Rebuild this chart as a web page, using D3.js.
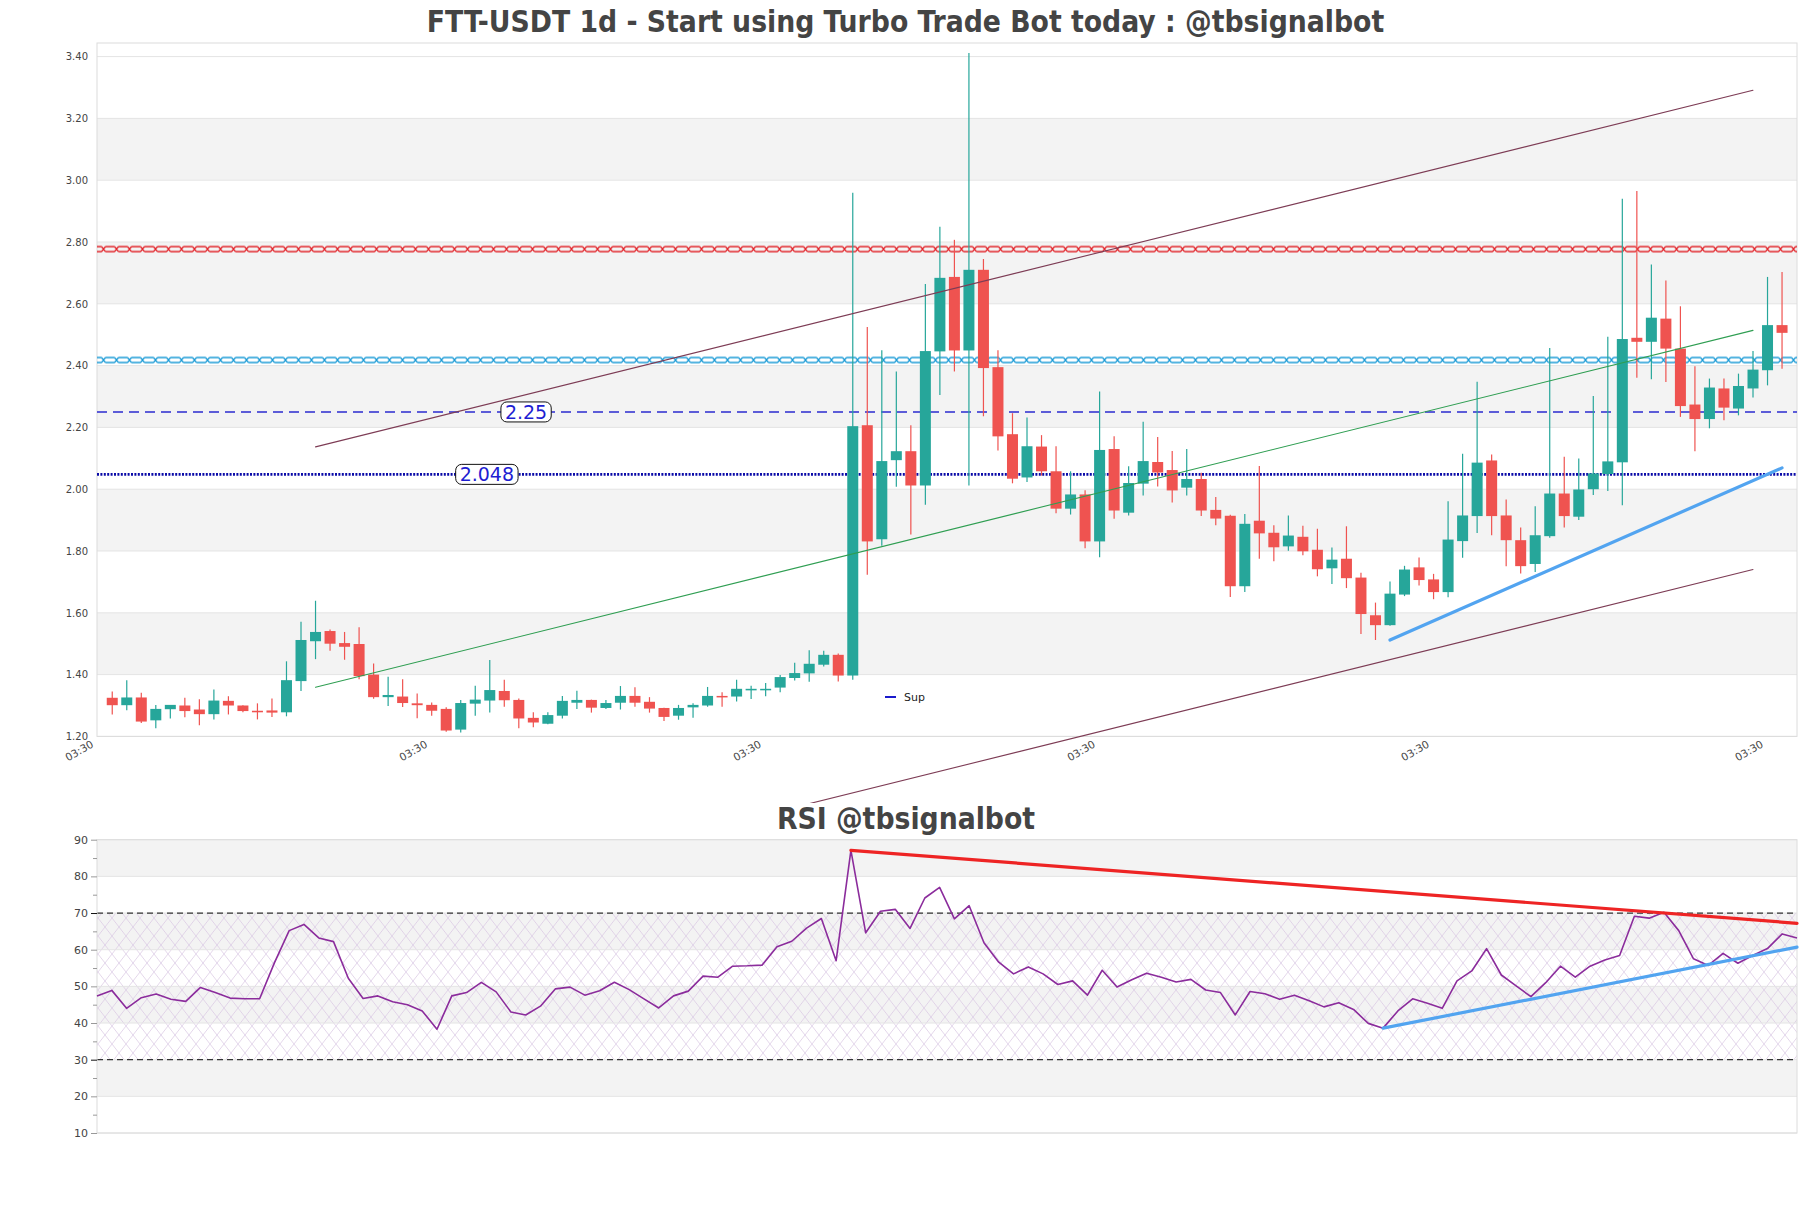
<!DOCTYPE html>
<html>
<head>
<meta charset="utf-8">
<script src="https://cdn.jsdelivr.net/npm/d3@7"></script>
<style>
  body { margin: 0; background: #fff; }
  svg { display: block; font-family: "DejaVu Sans", sans-serif; }
</style>
</head>
<body>
<script>
/**********************
 ***      Data      ***
 **********************/
const TITLE_TEXT = "FTT-USDT 1d - Start using Turbo Trade Bot today : @tbsignalbot";
const RSI_TITLE = "RSI @tbsignalbot";

const opens = [1.325,1.301,1.326,1.252,1.288,1.300,1.287,1.272,1.315,1.300,1.283,1.284,1.278,1.379,1.508,1.541,1.502,1.499,1.400,1.327,
  1.329,1.307,1.302,1.289,1.222,1.306,1.316,1.347,1.318,1.260,1.241,1.267,1.309,1.318,1.292,1.309,1.331,1.312,1.292,1.267,
  1.294,1.300,1.331,1.329,1.349,1.352,1.358,1.389,1.404,1.432,1.464,1.397,2.207,1.838,2.094,2.123,2.012,2.446,2.687,2.449,
  2.710,2.395,2.178,2.038,2.138,2.058,1.937,1.983,1.831,2.130,1.924,2.018,2.088,2.062,2.005,2.033,1.933,1.914,1.686,1.898,
  1.859,1.815,1.846,1.804,1.744,1.775,1.714,1.592,1.560,1.659,1.747,1.708,1.667,1.832,1.913,2.093,1.915,1.835,1.758,1.848,
  1.986,1.911,2.000,2.049,2.087,2.490,2.477,2.552,2.455,2.274,2.227,2.326,2.261,2.326,2.385,2.531];
const highs = [1.345,1.382,1.341,1.302,1.302,1.325,1.320,1.352,1.330,1.301,1.307,1.323,1.443,1.571,1.639,1.546,1.538,1.553,1.436,1.393,
  1.385,1.339,1.310,1.294,1.318,1.364,1.447,1.383,1.323,1.278,1.278,1.331,1.348,1.319,1.318,1.363,1.359,1.327,1.293,1.302,
  1.307,1.360,1.343,1.383,1.364,1.373,1.399,1.438,1.479,1.477,1.468,2.959,2.525,2.450,2.381,2.207,2.664,2.849,2.807,3.412,
  2.745,2.450,2.246,2.232,2.175,2.139,2.058,1.997,2.316,2.171,2.074,2.218,2.169,2.124,2.130,2.053,1.975,1.917,1.920,2.075,
  1.883,1.915,1.882,1.872,1.811,1.880,1.730,1.633,1.701,1.752,1.779,1.726,1.961,2.115,2.348,2.112,1.967,1.876,1.945,2.457,
  2.105,2.099,2.302,2.493,2.940,2.965,2.727,2.675,2.592,2.398,2.358,2.358,2.374,2.447,2.687,2.703];
const lows = [1.271,1.285,1.243,1.226,1.258,1.262,1.236,1.255,1.271,1.278,1.255,1.263,1.265,1.347,1.450,1.477,1.448,1.385,1.322,1.298,
  1.295,1.259,1.267,1.215,1.213,1.267,1.277,1.296,1.226,1.230,1.239,1.258,1.289,1.277,1.289,1.287,1.296,1.277,1.250,1.254,
  1.260,1.296,1.296,1.313,1.321,1.330,1.343,1.381,1.377,1.426,1.378,1.383,1.723,1.817,2.008,1.853,1.950,2.305,2.381,2.012,
  2.236,2.125,2.019,2.023,2.044,1.922,1.918,1.809,1.780,1.904,1.915,1.980,2.009,1.957,1.980,1.913,1.883,1.651,1.667,1.775,
  1.767,1.801,1.786,1.718,1.693,1.680,1.531,1.512,1.558,1.654,1.688,1.644,1.650,1.778,1.858,1.851,1.751,1.727,1.732,1.843,
  1.876,1.900,1.981,1.994,1.948,2.361,2.356,2.347,2.234,2.123,2.197,2.223,2.239,2.297,2.336,2.390];
const closes = [1.301,1.326,1.248,1.289,1.302,1.282,1.272,1.316,1.300,1.282,1.278,1.277,1.382,1.512,1.538,1.500,1.490,1.395,1.327,1.334,
  1.308,1.301,1.283,1.219,1.308,1.319,1.350,1.317,1.258,1.245,1.269,1.315,1.318,1.293,1.308,1.331,1.309,1.290,1.263,1.292,
  1.302,1.331,1.329,1.354,1.354,1.354,1.392,1.405,1.435,1.464,1.397,2.204,1.831,2.091,2.123,2.012,2.447,2.684,2.449,2.710,
  2.392,2.171,2.034,2.139,2.058,1.937,1.983,1.831,2.127,1.931,2.020,2.091,2.054,1.996,2.033,1.931,1.905,1.686,1.888,1.857,
  1.812,1.850,1.799,1.741,1.772,1.712,1.596,1.560,1.662,1.740,1.706,1.667,1.837,1.915,2.086,1.913,1.835,1.751,1.851,1.986,
  1.913,1.999,2.051,2.090,2.486,2.477,2.555,2.455,2.269,2.227,2.329,2.264,2.334,2.387,2.531,2.506];

const rsiValues = [47.4,48.9,44.0,46.9,47.9,46.5,45.9,49.7,48.3,46.8,46.6,46.6,56.4,65.2,66.9,63.2,62.2,52.2,46.7,47.4,
  45.8,45.0,43.3,38.3,47.4,48.3,51.1,48.5,43.0,42.2,44.6,49.3,49.8,47.6,48.8,51.1,49.1,46.6,44.1,47.4,
  48.7,52.8,52.5,55.5,55.6,55.8,60.8,62.3,65.9,68.5,57.0,87.1,64.6,70.5,71.0,65.8,74.1,77.0,68.4,72.0,
  61.9,56.6,53.4,55.3,53.4,50.5,51.5,47.6,54.4,49.8,51.8,53.6,52.5,51.2,51.9,49.0,48.3,42.2,48.6,48.0,
  46.5,47.6,46.1,44.4,45.5,43.7,39.9,38.6,43.3,46.6,45.4,44.0,51.5,54.2,60.3,53.1,50.1,47.2,51.0,55.5,
  52.5,55.5,57.2,58.4,69.1,68.6,70.2,65.2,57.5,55.7,59.0,56.3,58.4,60.3,64.3,63.2];

const priceTicks = [1.2, 1.4, 1.6, 1.8, 2.0, 2.2, 2.4, 2.6, 2.8, 3.0, 3.2, 3.4];
const rsiTicks = [10, 20, 30, 40, 50, 60, 70, 80, 90];
const rsiMinorTicks = [15, 25, 35, 45, 55, 65, 75, 85];
const rsiBounds = [30, 70];
const xTickIndex = [-1, 22, 45, 68, 91, 114];

// horizontal levels
const hatchLevels = [2.777, 2.418];
const dashedLevel = 2.25;
const dottedLevel = 2.048;

// trend lines: [startIndex, startValue, endIndex, endValue]
const channelUpper = [14, 2.137, 113, 3.291];
const channelMid   = [14, 1.359, 113, 2.514];
const channelLower = [14, 0.586, 113, 1.740];
const supportLine  = [88, 1.512, 115, 2.069];
const rsiResistance = [51, 87.1, 115, 67.2];
const rsiSupport    = [87, 38.6, 115, 60.7];

/**********************
 ***     Layout     ***
 **********************/
const W = 1811, H = 1208;
const MAIN = { left: 97, right: 1797, top: 43, bottom: 736.4 };
const RSI = { left: 97, right: 1797, top: 839.7, bottom: 1133 };

const startDate = new Date(2023, 0, 1, 3, 30);
const dateAt = i => new Date(startDate.getTime() + i * 864e5);

const candles = opens.map((o, i) => ({
  date: dateAt(i), open: o, high: highs[i], low: lows[i], close: closes[i]
}));

const x = d3.scaleTime()
  .domain([dateAt(-1.05), dateAt(116.03)])
  .range([MAIN.left, MAIN.right]);
const y = d3.scaleLinear()
  .domain([1.2, 3.444])
  .range([MAIN.bottom, MAIN.top]);

const rx = d3.scaleTime()
  .domain([dateAt(0), dateAt(rsiValues.length - 1)])
  .range([RSI.left, RSI.right]);
const ry = d3.scaleLinear()
  .domain([10, 90])
  .range([RSI.bottom, RSI.top]);

const svg = d3.select("body").append("svg")
  .attr("width", W)
  .attr("height", H);
const defs = svg.append("defs");

// titles
const addTitle = (text, cx, base) => svg.append("text")
  .attr("x", cx).attr("y", base)
  .attr("text-anchor", "middle")
  .attr("fill", "#444")
  .style("font-family", "'DejaVu Sans Condensed','DejaVu Sans',sans-serif")
  .style("font-stretch", "condensed")
  .style("font-weight", "bold")
  .style("font-size", "29.7px")
  .text(text);
addTitle(TITLE_TEXT, 905.5, 32);
addTitle(RSI_TITLE, 906, 829);

/**********************
 ***   Main chart   ***
 **********************/
const main = svg.append("g");

// alternating bands
const bandPairs = d3.pairs(priceTicks).filter((d, i) => i % 2 === 1);
main.selectAll("rect.band")
  .data(bandPairs)
  .enter().append("rect")
  .attr("class", "band")
  .attr("x", MAIN.left)
  .attr("width", MAIN.right - MAIN.left)
  .attr("y", d => y(d[1]))
  .attr("height", d => y(d[0]) - y(d[1]))
  .attr("fill", "#f3f3f3");

main.selectAll("line.grid")
  .data(priceTicks)
  .enter().append("line")
  .attr("class", "grid")
  .attr("x1", MAIN.left).attr("x2", MAIN.right)
  .attr("y1", d => y(d)).attr("y2", d => y(d))
  .attr("stroke", "#e4e4e4");

main.append("rect")
  .attr("x", MAIN.left).attr("y", MAIN.top)
  .attr("width", MAIN.right - MAIN.left)
  .attr("height", MAIN.bottom - MAIN.top)
  .attr("fill", "none")
  .attr("stroke", "#dcdcdc");

// y axis
main.append("g")
  .attr("transform", `translate(${MAIN.left},0)`)
  .call(d3.axisLeft(y).tickValues(priceTicks).tickFormat(d3.format(".2f")).tickSize(0).tickPadding(9))
  .call(g => g.select(".domain").remove())
  .call(g => g.selectAll("text").attr("fill", "#444").style("font-size", "10px").style("font-family", "DejaVu Sans"));

// x axis
main.append("g")
  .attr("transform", `translate(0,${MAIN.bottom})`)
  .call(d3.axisBottom(x).tickValues(xTickIndex.map(dateAt)).tickFormat(d3.timeFormat("%H:%M")).tickSize(0))
  .call(g => g.select(".domain").remove())
  .call(g => g.selectAll("text")
    .attr("text-anchor", "end")
    .attr("y", 0).attr("dy", null)
    .attr("transform", "translate(-4,10) rotate(-30)")
    .attr("fill", "#444")
    .style("font-size", "10.5px")
    .style("font-family", "DejaVu Sans"));

// hatched levels (resistance zones)
const hatchColors = ["#e2262c", "#1c9bd6"];
hatchLevels.forEach((lvl, k) => {
  const yy = y(lvl) - 3.5;
  const pat = defs.append("pattern")
    .attr("id", "hatch" + k)
    .attr("patternUnits", "userSpaceOnUse")
    .attr("x", MAIN.left).attr("y", yy)
    .attr("width", 13).attr("height", 7);
  pat.append("path")
    .attr("d", "M0,1H4.5M8.5,1H13M0,6H4.5M8.5,6H13M4.5,1L8.5,6M8.5,1L4.5,6")
    .attr("stroke", hatchColors[k])
    .attr("stroke-width", 1.3)
    .attr("fill", "none");
  main.append("rect")
    .attr("x", MAIN.left).attr("y", yy)
    .attr("width", MAIN.right - MAIN.left).attr("height", 7)
    .attr("fill", `url(#hatch${k})`);
});

main.append("line")
  .attr("x1", MAIN.left).attr("x2", MAIN.right)
  .attr("y1", y(dashedLevel)).attr("y2", y(dashedLevel))
  .attr("stroke", "#2b2bd0").attr("stroke-width", 1.4)
  .attr("stroke-dasharray", "10,6");

main.append("line")
  .attr("x1", MAIN.left).attr("x2", MAIN.right)
  .attr("y1", y(dottedLevel)).attr("y2", y(dottedLevel))
  .attr("stroke", "#0a0aa8").attr("stroke-width", 2.6)
  .attr("stroke-dasharray", "2,1.4");

// candles
const bodyW = 11;
const candleG = main.append("g");
const color = d => d.close >= d.open ? "#26a69a" : "#ef5350";

candleG.selectAll("line.wick")
  .data(candles)
  .enter().append("line")
  .attr("class", "wick")
  .attr("x1", d => x(d.date)).attr("x2", d => x(d.date))
  .attr("y1", d => y(d.high)).attr("y2", d => y(d.low))
  .attr("stroke", color).attr("stroke-width", 1.2);

candleG.selectAll("rect.body")
  .data(candles)
  .enter().append("rect")
  .attr("class", "body")
  .attr("x", d => x(d.date) - bodyW / 2)
  .attr("width", bodyW)
  .attr("y", d => y(Math.max(d.open, d.close)))
  .attr("height", d => Math.max(1.5, Math.abs(y(d.open) - y(d.close))))
  .attr("fill", color);

// trend lines
defs.append("clipPath").attr("id", "mainClip")
  .append("rect").attr("x", MAIN.left).attr("y", 0)
  .attr("width", MAIN.right - MAIN.left).attr("height", 803);

const seg = (g, s, xs, ys, stroke, w) => g.append("line")
  .attr("x1", xs(dateAt(s[0]))).attr("y1", ys(s[1]))
  .attr("x2", xs(dateAt(s[2]))).attr("y2", ys(s[3]))
  .attr("stroke", stroke).attr("stroke-width", w)
  .attr("stroke-linecap", "round");

const trendG = main.append("g").attr("clip-path", "url(#mainClip)");
seg(trendG, channelUpper, x, y, "#7d3c55", 1.1);
seg(trendG, channelLower, x, y, "#7d3c55", 1.1);
seg(trendG, channelMid, x, y, "#2f9e52", 1.1);
seg(trendG, supportLine, x, y, "#52a4f0", 3.2);

// level labels
const levelLabel = (val, text, idx) => {
  const cx = x(dateAt(idx)), cy = y(val);
  const g = main.append("g");
  const t = g.append("text")
    .attr("x", cx).attr("y", cy + 7)
    .attr("text-anchor", "middle")
    .attr("fill", "#1e1ed2")
    .style("font-size", "19px")
    .text(text);
  const bb = t.node().getBBox();
  g.insert("rect", "text")
    .attr("x", bb.x - 4).attr("y", cy - 10)
    .attr("width", bb.width + 8).attr("height", 20)
    .attr("rx", 6)
    .attr("fill", "#fff").attr("stroke", "#111").attr("stroke-width", 1);
};
levelLabel(dashedLevel, "2.25", 28.5);
levelLabel(dottedLevel, "2.048", 25.8);

// legend
main.append("line")
  .attr("x1", 885).attr("x2", 896)
  .attr("y1", 697).attr("y2", 697)
  .attr("stroke", "#1a1acc").attr("stroke-width", 2);
main.append("text")
  .attr("x", 904).attr("y", 701)
  .attr("fill", "#222")
  .style("font-size", "11px")
  .text("Sup");

/**********************
 ***   RSI panel    ***
 **********************/
const rsiG = svg.append("g");

const rsiBands = d3.pairs(rsiTicks).filter((d, i) => i % 2 === 1);
rsiG.selectAll("rect.band")
  .data(rsiBands)
  .enter().append("rect")
  .attr("x", RSI.left).attr("width", RSI.right - RSI.left)
  .attr("y", d => ry(d[1]))
  .attr("height", d => ry(d[0]) - ry(d[1]))
  .attr("fill", "#f3f3f3");

const hatch = defs.append("pattern")
  .attr("id", "rsiHatch")
  .attr("patternUnits", "userSpaceOnUse")
  .attr("width", 14).attr("height", 18);
hatch.append("path")
  .attr("d", "M0,0L14,18M14,0L0,18")
  .attr("stroke", "#d9c6e2").attr("stroke-width", 0.7).attr("fill", "none");

rsiG.append("rect")
  .attr("x", RSI.left).attr("width", RSI.right - RSI.left)
  .attr("y", ry(rsiBounds[1])).attr("height", ry(rsiBounds[0]) - ry(rsiBounds[1]))
  .attr("fill", "url(#rsiHatch)");

rsiG.selectAll("line.grid")
  .data(rsiTicks)
  .enter().append("line")
  .attr("x1", RSI.left).attr("x2", RSI.right)
  .attr("y1", d => ry(d)).attr("y2", d => ry(d))
  .attr("stroke", "#e4e4e4");

rsiG.selectAll("line.bound")
  .data(rsiBounds)
  .enter().append("line")
  .attr("x1", RSI.left).attr("x2", RSI.right)
  .attr("y1", d => ry(d)).attr("y2", d => ry(d))
  .attr("stroke", "#333").attr("stroke-width", 1.2)
  .attr("stroke-dasharray", "6,4");

rsiG.append("rect")
  .attr("x", RSI.left).attr("y", RSI.top)
  .attr("width", RSI.right - RSI.left).attr("height", RSI.bottom - RSI.top)
  .attr("fill", "none").attr("stroke", "#dcdcdc");

rsiG.append("g")
  .attr("transform", `translate(${RSI.left},0)`)
  .call(d3.axisLeft(ry).tickValues(rsiMinorTicks).tickSize(4).tickFormat(""))
  .call(g => g.select(".domain").remove())
  .call(g => g.selectAll("line").attr("stroke", "#999"));

rsiG.append("g")
  .attr("transform", `translate(${RSI.left},0)`)
  .call(d3.axisLeft(ry).tickValues(rsiTicks).tickSize(6).tickPadding(3))
  .call(g => g.select(".domain").remove())
  .call(g => g.selectAll(".tick line").attr("stroke", d => rsiBounds.includes(d) ? "#111" : "#999"))
  .call(g => g.selectAll("text").attr("fill", "#444").style("font-size", "11px").style("font-family", "DejaVu Sans"));

const rsiLine = d3.line()
  .x((d, i) => rx(dateAt(i)))
  .y(d => ry(d));

rsiG.append("path")
  .datum(rsiValues)
  .attr("d", rsiLine)
  .attr("fill", "none")
  .attr("stroke", "#8b2c9c")
  .attr("stroke-width", 1.6)
  .attr("stroke-linejoin", "round");

seg(rsiG, rsiResistance, rx, ry, "#ee2424", 3.2);
seg(rsiG, rsiSupport, rx, ry, "#52a4f0", 3.2);
</script>
</body>
</html>
